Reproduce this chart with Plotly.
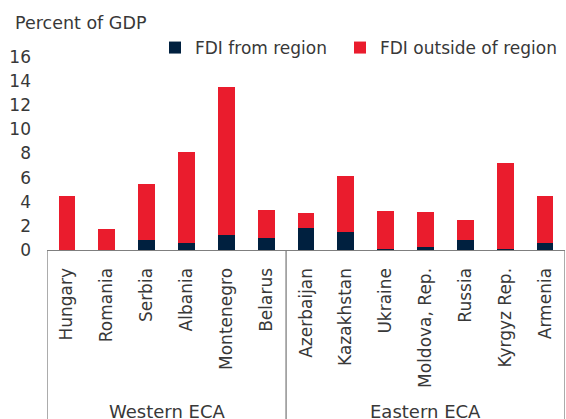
import plotly.graph_objects as go

countries = ["Hungary", "Romania", "Serbia", "Albania", "Montenegro", "Belarus",
             "Azerbaijan", "Kazakhstan", "Ukraine", "Moldova, Rep.", "Russia",
             "Kyrgyz Rep.", "Armenia"]
total_fdi = [4.5, 1.7, 5.5, 8.1, 13.5, 3.35, 3.1, 6.15, 3.2, 3.15, 2.5, 7.2, 4.5]
fdi_from_region = [0.0, 0.0, 0.85, 0.6, 1.25, 1.0, 1.8, 1.5, 0.1, 0.25, 0.8, 0.05, 0.6]
fdi_outside_region = [round(t - f, 2) for t, f in zip(total_fdi, fdi_from_region)]
groups = ["Western ECA", "Eastern ECA"]
group_sizes = [6, 7]
y_ticks = [0, 2, 4, 6, 8, 10, 12, 14, 16]

NAVY = "#00203F"
RED = "#EA1C2D"
TXT = "#383838"
FONT = "DejaVu Sans"

fig = go.Figure()
fig.add_trace(go.Bar(x=list(range(len(countries))), y=fdi_from_region,
                     name="FDI from region", legendwidth=140,
                     marker=dict(color=NAVY, line=dict(width=0))))
fig.add_trace(go.Bar(x=list(range(len(countries))), y=fdi_outside_region,
                     name="FDI outside of region", legendwidth=200,
                     marker=dict(color=RED, line=dict(width=0))))

# group separators below axis
bounds = [-0.5]
for s in group_sizes:
    bounds.append(bounds[-1] + s)
for b in bounds:
    fig.add_shape(type="line", xref="x", yref="paper", x0=b, x1=b, y0=0, y1=-1.0,
                  line=dict(color="#7f7f7f", width=1.3))

for g, lo, hi in zip(groups, bounds[:-1], bounds[1:]):
    fig.add_annotation(text=g, x=(lo + hi) / 2, xref="x", y=-0.77, yref="paper",
                       xanchor="center", yanchor="top", showarrow=False,
                       font=dict(family=FONT, size=18, color=TXT))

fig.add_annotation(text="Percent of GDP", xref="paper", yref="paper",
                   x=(13 - 47) / 518, y=(250 - 23) / 193, xanchor="left", yanchor="middle",
                   showarrow=False, font=dict(family=FONT, size=17.5, color=TXT))

fig.update_layout(
    width=566, height=419,
    margin=dict(l=47, r=1, t=57, b=169, autoexpand=False),
    barmode="stack", bargap=0.58,
    plot_bgcolor="white", paper_bgcolor="white",
    font=dict(family=FONT, size=17, color=TXT),
    showlegend=True,
    legend=dict(orientation="h", x=(155 - 47) / 518, xanchor="left",
                y=(250 - 48) / 193, yanchor="middle", bgcolor="rgba(0,0,0,0)",
                font=dict(family=FONT, size=17, color=TXT),
                itemwidth=30, traceorder="normal"),
    xaxis=dict(range=[-0.5, 12.5], tickmode="array",
               tickvals=list(range(len(countries))), ticktext=countries,
               tickangle=-90, showline=True, linecolor="#7f7f7f", linewidth=1.3,
               showgrid=False, zeroline=False, ticks="", ticklabelstandoff=10,
               automargin=False,
               tickfont=dict(family=FONT, size=17, color=TXT), fixedrange=True),
    yaxis=dict(range=[0, 16], tickvals=y_ticks, showgrid=False, zeroline=False,
               showline=False, ticks="", ticklabelstandoff=15, automargin=False,
               tickfont=dict(family=FONT, size=17, color=TXT)),
)

fig.write_html("out.html", config={"displayModeBar": False},
               post_script="document.body.style.margin='0';")
